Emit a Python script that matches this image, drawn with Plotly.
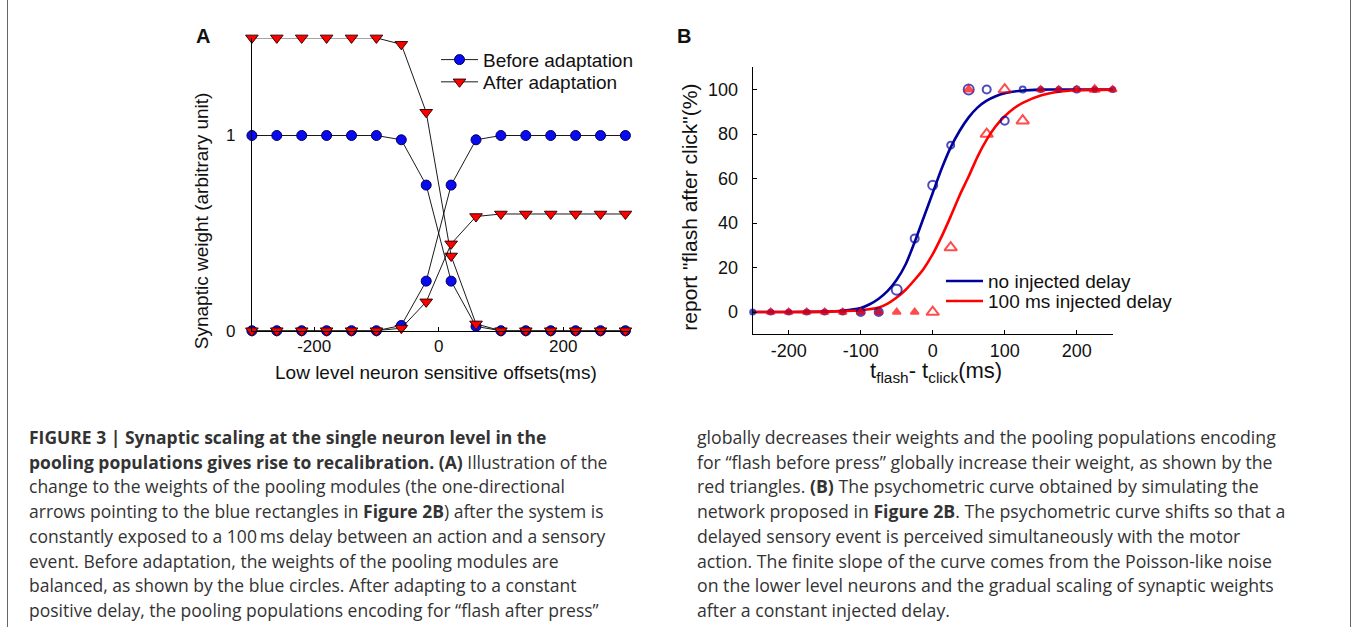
import plotly.graph_objects as go

W, H = 1354, 637

# ---------------- Panel A data ----------------
offsets_a = [-300, -260, -220, -180, -140, -100, -60, -20, 20, 60, 100, 140, 180, 220, 260, 300]
before_dec = [1, 1, 1, 1, 1, 1, 0.978, 0.746, 0.254, 0.022, 0, 0, 0, 0, 0, 0]
before_inc = [0, 0, 0, 0, 0, 0, 0.027, 0.254, 0.746, 0.978, 1, 1, 1, 1, 1, 1]
after_dec = [1.5, 1.5, 1.5, 1.5, 1.5, 1.5, 1.467, 1.119, 0.383, 0.035, 0, 0, 0, 0, 0, 0]
after_inc = [0, 0, 0, 0, 0, 0, 0.013, 0.148, 0.445, 0.585, 0.598, 0.598, 0.598, 0.598, 0.598, 0.598]
xticks_a = [-200, 0, 200]
xticktext_a = ["-200", "0", "200"]
yticks_a = [0, 1]

# ---------------- Panel B data ----------------
delays_b = [-250, -225, -200, -175, -150, -125, -100, -75, -50, -25, 0, 25, 50, 75, 100,
            125, 150, 175, 200, 225, 250]
no_delay_pts = [0, 0, 0, 0, 0, 0, 0, 0, 10, 33, 57, 75, 100, 100, 86, 100, 100, 100, 100, 100, 100]
delay_pts = [None, 0, 0, 0, 0, 0, 0, 0, 0, 0, 0, 29, 100, 80, 100, 86, 100, 100, 100, 100, 100]

no_delay_curve_x = [-250, -200, -150, -125, -100, -87.5, -75, -62.5, -50, -37.5, -25, -12.5, 0,
                    12.5, 25, 37.5, 50, 62.5, 75, 87.5, 100, 125, 150, 200, 250]
no_delay_curve_y = [0, 0, 0.2, 0.6, 1.8, 3.5, 6, 9.5, 14.5, 21.5, 31.5, 42.5, 53.5,
                    64.5, 74, 81.5, 87.5, 92, 95, 97, 98.3, 99.6, 100, 100, 100]
delay_curve_x = [-250, -200, -150, -125, -100, -75, -62.5, -50, -37.5, -25, -12.5, 0, 12.5,
                 25, 37.5, 50, 62.5, 75, 87.5, 100, 112.5, 125, 150, 175, 200, 250]
delay_curve_y = [0, 0, 0.2, 0.4, 0.8, 2, 3.8, 6.5, 10, 14.5, 19.5, 26, 34,
                 43, 52.5, 61, 70, 77.5, 83.5, 88, 91.5, 94, 97.3, 99, 99.7, 100]
xticks_b = [-200, -100, 0, 100, 200]
xticktext_b = ["-200", "-100", "0", "100", "200"]
yticks_b = [0, 20, 40, 60, 80, 100]

# marker styles for panel B points (style only)
blue_sym = ["circle"] * 8 + ["circle-open"] * 8 + \
           ["circle", "circle", "circle-open", "circle", "circle"]
blue_size = [5, 5, 5, 5, 5, 5, 8, 8, 10, 8, 9, 7, 10, 8, 8, 6, 5, 5, 6, 5, 5]
red_sym = ["triangle-up"] * 10 + ["triangle-up-open", "triangle-up-open", "triangle-up",
                                  "triangle-up-open", "triangle-up-open", "triangle-up-open",
                                  "triangle-up", "triangle-up", "triangle-up", "triangle-up", "triangle-up"]
red_size = [7] * 10 + [11, 11, 8, 11, 11, 11, 7, 7, 7, 9, 7]

FONT = "Liberation Sans, Arial, sans-serif"
CAP_FONT = "Open Sans, sans-serif"

def px_x(p):
    return p / W

def px_y(p):
    return 1 - p / H

fig = go.Figure()

# Panel A traces
line_a = dict(color="black", width=0.9)
blue_m = dict(symbol="circle", size=10, color="#0a0af0", line=dict(color="#000060", width=1))
red_m = dict(symbol="triangle-down", size=11, color="#ff0000", line=dict(color="#400000", width=1))

fig.add_trace(go.Scatter(x=offsets_a, y=before_dec, mode="lines+markers", line=line_a, marker=blue_m,
                         name="Before adaptation", xaxis="x", yaxis="y", cliponaxis=False,
                         legend="legend", showlegend=True))
fig.add_trace(go.Scatter(x=offsets_a, y=before_inc, mode="lines+markers", line=line_a, marker=blue_m,
                         name="Before adaptation", xaxis="x", yaxis="y", cliponaxis=False, showlegend=False))
fig.add_trace(go.Scatter(x=offsets_a, y=after_dec, mode="lines+markers", line=line_a, marker=red_m,
                         name="After adaptation", xaxis="x", yaxis="y", cliponaxis=False,
                         legend="legend2", showlegend=True))
fig.add_trace(go.Scatter(x=offsets_a, y=after_inc, mode="lines+markers", line=line_a, marker=red_m,
                         name="After adaptation", xaxis="x", yaxis="y", cliponaxis=False, showlegend=False))

# Panel B traces
BLUE = "#00009c"
RED = "#ff0000"
fig.add_trace(go.Scatter(x=no_delay_curve_x, y=no_delay_curve_y, mode="lines",
                         line=dict(color=BLUE, width=2.6, shape="spline", smoothing=0.8),
                         name="no injected delay", xaxis="x2", yaxis="y2", legend="legend3"))
fig.add_trace(go.Scatter(x=delay_curve_x, y=delay_curve_y, mode="lines",
                         line=dict(color=RED, width=2.6, shape="spline", smoothing=0.8),
                         name="100 ms injected delay", xaxis="x2", yaxis="y2", legend="legend4"))
fig.add_trace(go.Scatter(x=delays_b, y=no_delay_pts, mode="markers",
                         marker=dict(symbol=blue_sym, size=blue_size, color=BLUE, line=dict(color=BLUE, width=2)),
                         showlegend=False, xaxis="x2", yaxis="y2", cliponaxis=False))
fig.add_trace(go.Scatter(x=delays_b, y=delay_pts, mode="markers",
                         marker=dict(symbol=red_sym, size=red_size, color=RED, line=dict(color=RED, width=2)),
                         showlegend=False, xaxis="x2", yaxis="y2", cliponaxis=False))

axis_common = dict(showgrid=False, zeroline=False, showline=True, linecolor="black", linewidth=1,
                   tickcolor="black")

fig.update_layout(
    width=W, height=H, margin=dict(l=0, r=0, t=0, b=0), autosize=False,
    paper_bgcolor="white", plot_bgcolor="white",
    font=dict(family=FONT, color="#111"),
    xaxis=dict(domain=[px_x(251.9), px_x(630.4)], range=[-300, 308], tickvals=xticks_a,
               ticktext=xticktext_a, ticks="inside", ticklen=4, anchor="y",
               tickfont=dict(family=FONT, size=17, color="#111"), **axis_common),
    yaxis=dict(domain=[px_y(336), px_y(38.5)], range=[0, 1.5], tickvals=yticks_a, ticks="",
               ticklabelstandoff=12, anchor="x",
               tickfont=dict(family=FONT, size=17, color="#111"), **axis_common),
    xaxis2=dict(domain=[px_x(752.7), px_x(1112.7)], range=[-250, 250], tickvals=xticks_b,
                ticktext=xticktext_b, ticks="inside", ticklen=4, anchor="y2",
                tickfont=dict(family=FONT, size=18, color="#111"), **axis_common),
    yaxis2=dict(domain=[px_y(339.6), px_y(68.4)], range=[-10, 110], tickvals=yticks_b, ticks="inside",
                ticklen=4, ticklabelstandoff=10, anchor="x2",
                tickfont=dict(family=FONT, size=18, color="#111"), **axis_common),
)

leg = dict(font=dict(family=FONT, size=19, color="#111"), bgcolor="rgba(0,0,0,0)", borderwidth=0,
           xanchor="left", yanchor="middle", itemwidth=37)
fig.update_layout(
    legend=dict(x=px_x(436), y=px_y(60.7), **leg),
    legend2=dict(x=px_x(436), y=px_y(83.3), **leg),
    legend3=dict(x=px_x(941), y=px_y(285.7), **leg),
    legend4=dict(x=px_x(941), y=px_y(306), **leg),
)

ann = []
def add_text(x, y, text, size, angle=0, family=FONT, color="#111", xanchor="center"):
    ann.append(dict(x=px_x(x), y=px_y(y), xref="paper", yref="paper", text=text, showarrow=False,
                    font=dict(family=family, size=size, color=color), textangle=angle,
                    xanchor=xanchor, yanchor="middle"))

add_text(203, 37, "<b>A</b>", 20)
add_text(684, 37, "<b>B</b>", 20)
add_text(435.5, 378, "Low level neuron sensitive offsets(ms)", 19)
add_text(201.7, 224, "Synaptic weight (arbitrary unit)", 19, angle=-90)
add_text(690, 211, "report \"flash after click\"(%)", 21, angle=-90)
add_text(936, 378, "t<sub>flash</sub>- t<sub>click</sub>(ms)", 22)

left_lines = [
    "<b>FIGURE 3 | Synaptic scaling at the single neuron level in the</b>",
    "<b>pooling populations gives rise to recalibration. (A)</b> Illustration of the",
    "change to the weights of the pooling modules (the one-directional",
    "arrows pointing to the blue rectangles in <b>Figure 2B</b>) after the system is",
    "constantly exposed to a 100\u2009ms delay between an action and a sensory",
    "event. Before adaptation, the weights of the pooling modules are",
    "balanced, as shown by the blue circles. After adapting to a constant",
    "positive delay, the pooling populations encoding for \u201cflash after press\u201d",
]
right_lines = [
    "globally decreases their weights and the pooling populations encoding",
    "for \u201cflash before press\u201d globally increase their weight, as shown by the",
    "red triangles. <b>(B)</b> The psychometric curve obtained by simulating the",
    "network proposed in <b>Figure 2B</b>. The psychometric curve shifts so that a",
    "delayed sensory event is perceived simultaneously with the motor",
    "action. The finite slope of the curve comes from the Poisson-like noise",
    "on the lower level neurons and the gradual scaling of synaptic weights",
    "after a constant injected delay.",
]
for i, t in enumerate(left_lines):
    add_text(27, 444 + 25.1 * i, t, 17.5, family=CAP_FONT, color="#333", xanchor="left")
for i, t in enumerate(right_lines):
    add_text(695, 444 + 25.1 * i, t, 17.7, family=CAP_FONT, color="#333", xanchor="left")

fig.update_layout(annotations=ann)

# figure box borders
fig.update_layout(shapes=[
    dict(type="line", xref="paper", yref="paper", x0=px_x(7.5), x1=px_x(7.5), y0=0, y1=1,
         line=dict(color="#666", width=1)),
    dict(type="line", xref="paper", yref="paper", x0=px_x(1350.5), x1=px_x(1350.5), y0=0, y1=1,
         line=dict(color="#666", width=1)),
])

fig.write_html("out.html", config={"displayModeBar": False},
               post_script="document.body.style.margin='0';")
